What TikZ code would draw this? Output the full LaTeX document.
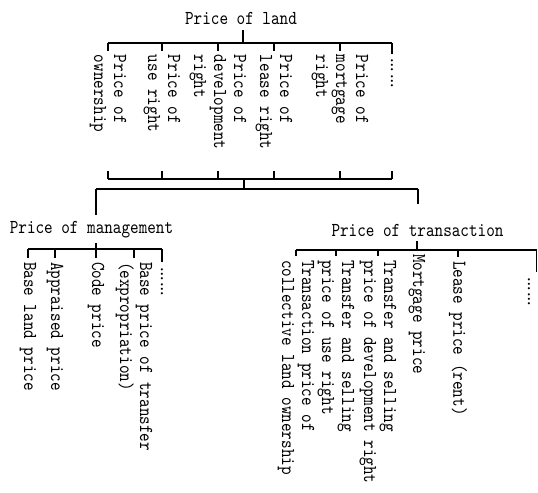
\documentclass[tikz,border=0pt]{standalone}
\usepackage{fontspec}
\usepackage{tikz}
\usetikzlibrary{positioning,calc}
\newfontfamily\pricefont[FakeStretch=0.83]{lmmono10-regular.otf}

\begin{document}
\begin{tikzpicture}[x=0.75pt, y=-0.75pt, line width=1.1pt]
  \tikzstyle{head} = [font=\pricefont\fontsize{14.8}{15}\selectfont, inner sep=0pt, outer sep=4pt, anchor=base]
  \tikzstyle{leaf} = [font=\pricefont\fontsize{14.8}{15}\selectfont, inner sep=0pt, outer sep=3pt, rotate=-90, anchor=west, align=left]
  \tikzstyle{more} = [font=\rmfamily\fontsize{20}{20}\selectfont, inner sep=0pt, outer sep=3pt, rotate=-90, anchor=west]

  \useasboundingbox (0,0) rectangle (538,492);

  % price of land and its rights
  \node[head] (land) at (241,25) {Price of land};
  \node[leaf] (own) at (108,51) {Price of\\ownership};
  \node[leaf] (use) at (162,51) {Price of\\use right};
  \node[leaf] (dev) at (218,51) {Price of\\development\\right};
  \node[leaf] (lease) at (274,51) {Price of\\lease right};
  \node[leaf] (mort) at (340,51) {Price of\\mortgage\\right};
  \node[more] (dotsa) at (392,54) {……};

  % management side
  \node[head] (mgmt) at (91.5,233) {Price of management};
  \node[leaf] (base) at (28,258) {Base land price};
  \node[leaf] (appr) at (55,258) {Appraised price};
  \node[leaf] (code) at (96,258) {Code price};
  \node[leaf] (transfer) at (134,258) {Base price of transfer\\(expropriation)};
  \node[more] (dotsb) at (162,262) {……};

  % transaction side
  \node[head] (trans) at (417.5,236) {Price of transaction};
  \node[leaf] (coll) at (296,256) {Transaction price of\\collective land ownership};
  \node[leaf] (usesell) at (336,256) {Transfer and selling\\price of use right};
  \node[leaf] (devsell) at (378,256) {Transfer and selling\\price of development right};
  \node[leaf] (mortp) at (417,250) {Mortgage price};
  \node[leaf] (leasep) at (458,257) {Lease price (rent)};
  \node[more] (dotsc) at (529,272) {……};

  \coordinate (topbar) at (243,43);
  \coordinate (botbar) at (244,179);
  \coordinate (lowbar) at (244,189);
  \coordinate (lowL) at (96,189);
  \coordinate (lowR) at (418,189);
  \coordinate (mbar) at (96,249);
  \coordinate (tbar) at (417,250);
  \coordinate (tend) at (536.5,250);

  \draw (topbar |- land.south) -- (topbar);
  \draw (own.west |- topbar) -- (dotsa.west |- topbar);
  \draw (own.west |- botbar) -- (dotsa.west |- botbar);
  \foreach \n in {own,use,dev,lease,mort,dotsa}
    \draw (\n.west |- topbar) -- (\n.west) (\n.west |- botbar) -- ++(0,-8);
  \draw (botbar) -- (lowbar);
  \draw (lowL) -- (lowR);
  \draw (lowL) -- (lowL |- mgmt.north);
  \draw[shorten >=11pt] (lowR) -- (lowR |- trans.north);

  \draw (mbar |- mgmt.south) -- (mbar);
  \draw (base.west |- mbar) -- (dotsb.west |- mbar);
  \foreach \n in {base,appr,code,transfer,dotsb}
    \draw (\n.west |- mbar) -- (\n.west);

  \draw (tbar |- trans.south) -- (tbar);
  \draw (coll.west |- tbar) -- (tend);
  \foreach \n in {coll,usesell,devsell,mortp,leasep}
    \draw (\n.west |- tbar) -- (\n.west);
  \draw (tend) -- (tend |- dotsc.west);
\end{tikzpicture}
\end{document}
